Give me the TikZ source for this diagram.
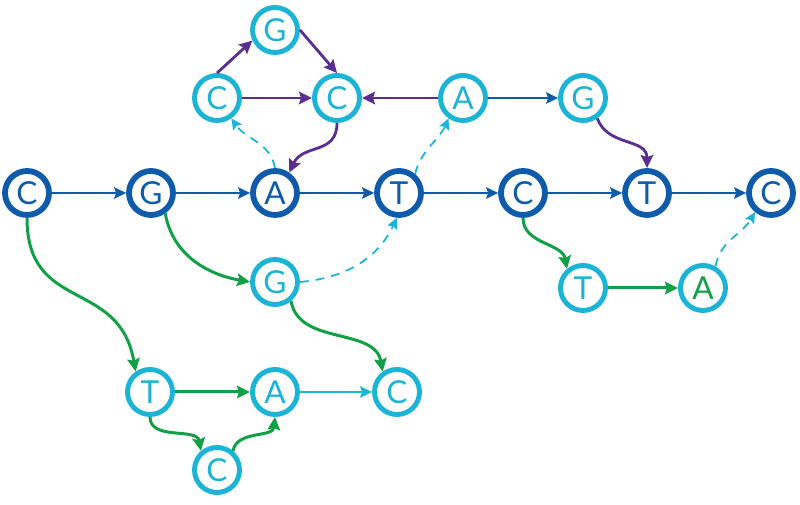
\documentclass[tikz,border=0pt]{standalone}
\usepackage{fontspec}
\setmainfont{Lato}
\usepackage{tikz}
\usetikzlibrary{arrows.meta,positioning}
\definecolor{SeqBlue}{HTML}{0D5BAA}
\definecolor{SeqCyan}{HTML}{1CB4D6}
\definecolor{SeqPurple}{HTML}{5A2E92}
\definecolor{SeqGreen}{HTML}{12A047}
\tikzset{
  refbase/.style={circle,draw=SeqBlue,line width=3.3pt,minimum size=8.8mm,inner sep=0pt,text=SeqBlue,font=\fontsize{18}{18}\selectfont,fill=white},
  altbase/.style={circle,draw=SeqCyan,line width=2.8pt,minimum size=9mm,inner sep=0pt,text=SeqCyan,font=\fontsize{18}{18}\selectfont,fill=white},
  refarrow/.style={-{Stealth[length=2.4mm,width=2.3mm,inset=0.4mm]},line width=1.1pt,draw=SeqBlue},
  altarrow/.style={-{Stealth[length=2.4mm,width=2.3mm,inset=0.4mm]},line width=0.9pt,draw=SeqCyan},
  purplearrow/.style={-{Stealth[length=2.6mm,width=2.5mm,inset=0.4mm]},line width=1.6pt,draw=SeqPurple},
  greenarrow/.style={-{Stealth[length=2.6mm,width=2.5mm,inset=0.4mm]},line width=1.7pt,draw=SeqGreen},
  jumplink/.style={-{Stealth[length=2.2mm,width=2.1mm,inset=0.4mm]},dashed,dash pattern=on 5pt off 4pt,line width=1pt,draw=SeqCyan}
}
\begin{document}
\begin{tikzpicture}[x=0.2mm,y=0.2mm,node distance=14.84mm]
\useasboundingbox (0,0) rectangle (800,505);
% reference path
\node[refbase] (c1) at (27,312) {C};
\node[refbase,right=of c1] (g1) {G};
\node[refbase,right=of g1] (a1) {A};
\node[refbase,right=of a1] (t1) {T};
\node[refbase,right=of t1] (c2) {C};
\node[refbase,right=of c2] (t2) {T};
\node[refbase,right=of t2] (c3) {C};
% upper bubble
\node[altbase] (gT) at (275,475) {G};
\node[altbase] (cL) at (217,407) {C};
\node[altbase] (cM) at (337,407) {C};
\node[altbase] (aT) at (463,407) {A};
\node[altbase] (gR) at (583,407) {G};
% lower branches
\node[altbase] (gLow) at (275,223) {G};
\node[altbase] (tR) at (583,217) {T};
\node[altbase,text=SeqGreen] (aR) at (703,217) {A};
\node[altbase] (tB) at (150,113) {T};
\node[altbase] (aB) at (275,113) {A};
\node[altbase] (cB) at (397,113) {C};
\node[altbase] (cBot) at (217,35) {C};

\draw[refarrow] (c1.east)--(g1.west);
\draw[refarrow] (g1.east)--(a1.west);
\draw[refarrow] (a1.east)--(t1.west);
\draw[refarrow] (t1.east)--(c2.west);
\draw[refarrow] (c2.east)--(t2.west);
\draw[refarrow] (t2.east)--(c3.west);
\draw[refarrow] (aT.east)--(gR.west);

\draw[purplearrow] (cL.north)--(gT.205);
\draw[purplearrow] (gT.east)--(cM.north);
\draw[purplearrow] (cL.east)--(cM.west);
\draw[purplearrow] (aT.west)--(cM.east);
\draw[purplearrow] (cM.south) to[out=-90,in=65,looseness=1.2] (a1.55);
\draw[purplearrow] (gR.-55) to[out=-70,in=90,looseness=1.1] (t2.north);

\draw[jumplink] (a1.north) to[out=100,in=-55] (cL.-55);
\draw[jumplink] (t1.50) to[out=75,in=-115] (aT.-125);
\draw[jumplink] (gLow.east) to[out=5,in=-115] (t1.-95);
\draw[jumplink] (aR.60) to[out=80,in=-120] (c3.-130);

\draw[greenarrow] (c1.south) to[out=-90,in=100,looseness=1.3] (tB.125);
\draw[greenarrow] (g1.-55) to[out=-80,in=170] (gLow.west);
\draw[greenarrow] (gLow.-50) to[out=-80,in=100] (cB.125);
\draw[greenarrow] (c2.south) to[out=-90,in=100] (tR.130);
\draw[greenarrow] (tR.east)--(aR.west);
\draw[greenarrow] (tB.east)--(aB.west);
\draw[greenarrow] (tB.south) to[out=-90,in=100] (cBot.130);
\draw[greenarrow] (cBot.50) to[out=80,in=-95] (aB.south);
\draw[altarrow] (aB.east)--(cB.west);
\end{tikzpicture}
\end{document}
